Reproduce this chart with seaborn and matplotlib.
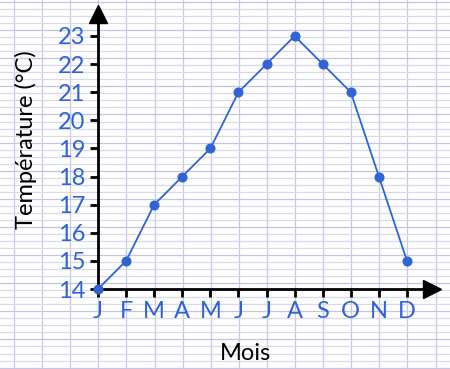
import numpy as np
import pandas as pd
import matplotlib
matplotlib.use("Agg")
import matplotlib.pyplot as plt
import seaborn as sns

# Data
months = ["J", "F", "M", "A", "M", "J", "J", "A", "S", "O", "N", "D"]
temps = [14, 15, 17, 18, 19, 21, 22, 23, 22, 21, 18, 15]
yticks = [14, 15, 16, 17, 18, 19, 20, 21, 22, 23]

blue = "#2f63d6"
df = pd.DataFrame({"idx": np.arange(len(months)), "temp": temps})

sns.set_style("white")
plt.rcParams["font.family"] = ["Lato", "DejaVu Sans"]

W, H = 450, 369
fig = plt.figure(figsize=(W / 100, H / 100), dpi=100)
fig.patch.set_facecolor("white")

# graph paper background (pixel units)
bg = fig.add_axes([0, 0, 1, 1])
bg.set_xlim(0, W)
bg.set_ylim(H, 0)
bg.axis("off")
for x in np.arange(14, W, 28.1):
    bg.axvline(x, color="#c8c8e6", lw=0.9, zorder=0)
for i, y in enumerate(np.arange(2, H, 7.03)):
    bg.axhline(y, color="#c4c4e4" if i % 4 == 0 else "#d8d8ee", lw=0.9, zorder=0)

# main axes: J at x=98, D at x=407 ; 14 at y=289, 23 at y=36
px_m = (407 - 98) / 11
px_d = (289 - 36) / 9
ax = fig.add_axes([98 / W, (H - 289) / H, (432 - 98) / W, (289 - 14) / H])
ax.patch.set_alpha(0)
xmax = (432 - 98) / px_m
ymax = 14 + (289 - 14) / px_d
ax.set_xlim(0, xmax)
ax.set_ylim(14, ymax)

sns.lineplot(data=df, x="idx", y="temp", ax=ax, color=blue, lw=1.3,
             marker="o", markersize=6.5, markeredgecolor=blue, clip_on=False, zorder=5)

for s in ["top", "right"]:
    ax.spines[s].set_visible(False)
for s in ["left", "bottom"]:
    ax.spines[s].set_color("black")
    ax.spines[s].set_linewidth(2)

# arrow heads
ax.plot([0], [ymax], marker="^", color="black", markersize=13, clip_on=False)
ax.plot([xmax], [14], marker=">", color="black", markersize=13, clip_on=False)

ax.set_xticks(df["idx"])
ax.set_xticklabels(months)
ax.set_yticks(yticks)
ax.set_yticklabels([str(v) for v in yticks])
ax.tick_params(axis="both", direction="out", length=6, width=2, color="black",
               labelcolor=blue, labelsize=17, pad=3, bottom=True, left=True)
ax.set_xlabel("")
ax.set_ylabel("")

fig.text(246 / W, 1 - 354 / H, "Mois", fontsize=17, color="black", ha="center", va="center")
fig.text(26 / W, 1 - 140 / H, "Température (°C)", fontsize=17, color="black",
         ha="center", va="center", rotation=90)

fig.savefig("out.png", dpi=100)
